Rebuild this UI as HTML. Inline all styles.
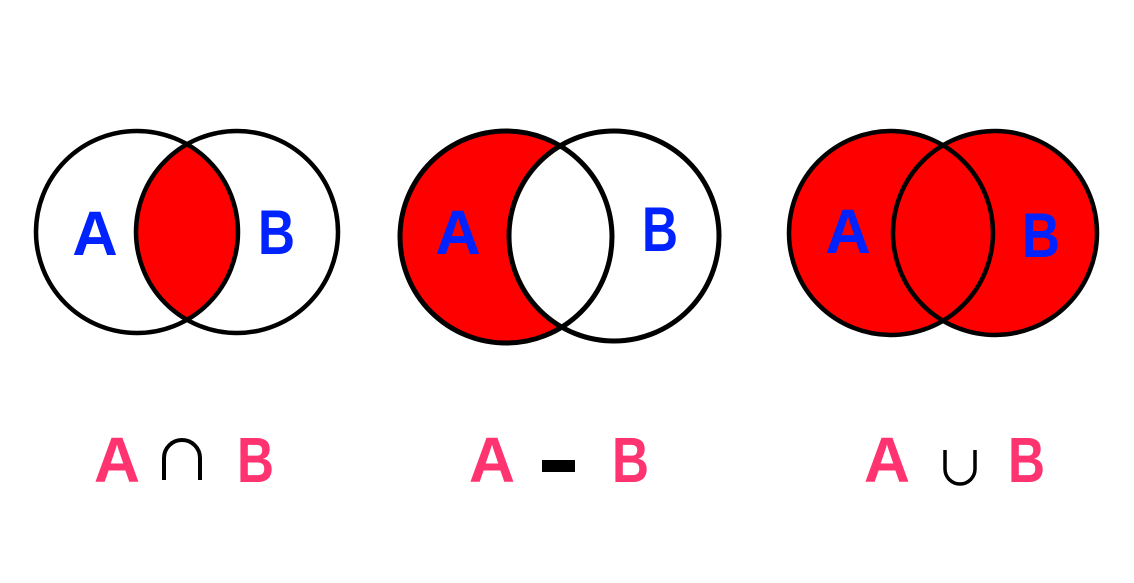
<!DOCTYPE html>
<html><head><meta charset="utf-8"><style>
html,body{margin:0;padding:0;background:#fff;}
svg{display:block;}
text{font-family:"Liberation Sans",sans-serif;font-weight:bold;}
</style></head><body>
<svg width="1134" height="583" viewBox="0 0 1134 583">
<defs>
<clipPath id="c1"><circle cx="137" cy="232" r="101"/></clipPath>
</defs>
<circle cx="237" cy="232" r="101" fill="#ff0000" clip-path="url(#c1)"/>
<circle cx="137" cy="232" r="101" fill="none" stroke="#000" stroke-width="4.5"/>
<circle cx="237" cy="232" r="101" fill="none" stroke="#000" stroke-width="4.5"/>
<text x="95" y="255" font-size="63" fill="#0022ff" text-anchor="middle">A</text>
<text x="258" y="254" font-size="63" fill="#0022ff" textLength="37" lengthAdjust="spacingAndGlyphs">B</text>

<circle cx="506" cy="237" r="106" fill="#ff0000"/>
<circle cx="614" cy="236" r="105" fill="#fff"/>
<circle cx="506" cy="237" r="106" fill="none" stroke="#000" stroke-width="5"/>
<circle cx="614" cy="236" r="105" fill="none" stroke="#000" stroke-width="5"/>
<text x="458" y="254" font-size="63" fill="#0022ff" text-anchor="middle">A</text>
<text x="642" y="251" font-size="63" fill="#0022ff" textLength="36" lengthAdjust="spacingAndGlyphs">B</text>

<circle cx="891" cy="233" r="102" fill="#ff0000"/>
<circle cx="995" cy="233" r="102" fill="#ff0000"/>
<circle cx="891" cy="233" r="102" fill="none" stroke="#000" stroke-width="4.5"/>
<circle cx="995" cy="233" r="102" fill="none" stroke="#000" stroke-width="4.5"/>
<text x="848" y="253" font-size="63" fill="#0022ff" text-anchor="middle">A</text>
<text x="1022" y="257" font-size="63" fill="#0022ff" textLength="38" lengthAdjust="spacingAndGlyphs">B</text>

<g fill="#ff3370" font-size="64">
<text x="117" y="482" text-anchor="middle">A</text>
<text x="237" y="482" textLength="37" lengthAdjust="spacingAndGlyphs">B</text>
<text x="492" y="482" text-anchor="middle">A</text>
<text x="612" y="482" textLength="37" lengthAdjust="spacingAndGlyphs">B</text>
<text x="887" y="482" text-anchor="middle">A</text>
<text x="1008" y="482" textLength="37" lengthAdjust="spacingAndGlyphs">B</text>
</g>
<path d="M164 480 V458 A18 18 0 0 1 200 458 V480" fill="none" stroke="#000" stroke-width="4"/>
<rect x="542" y="460" width="33" height="12" fill="#000"/>
<path d="M945 450 V469 A15 15 0 0 0 975 469 V450" fill="none" stroke="#000" stroke-width="3.5"/>
</svg>
</body></html>
